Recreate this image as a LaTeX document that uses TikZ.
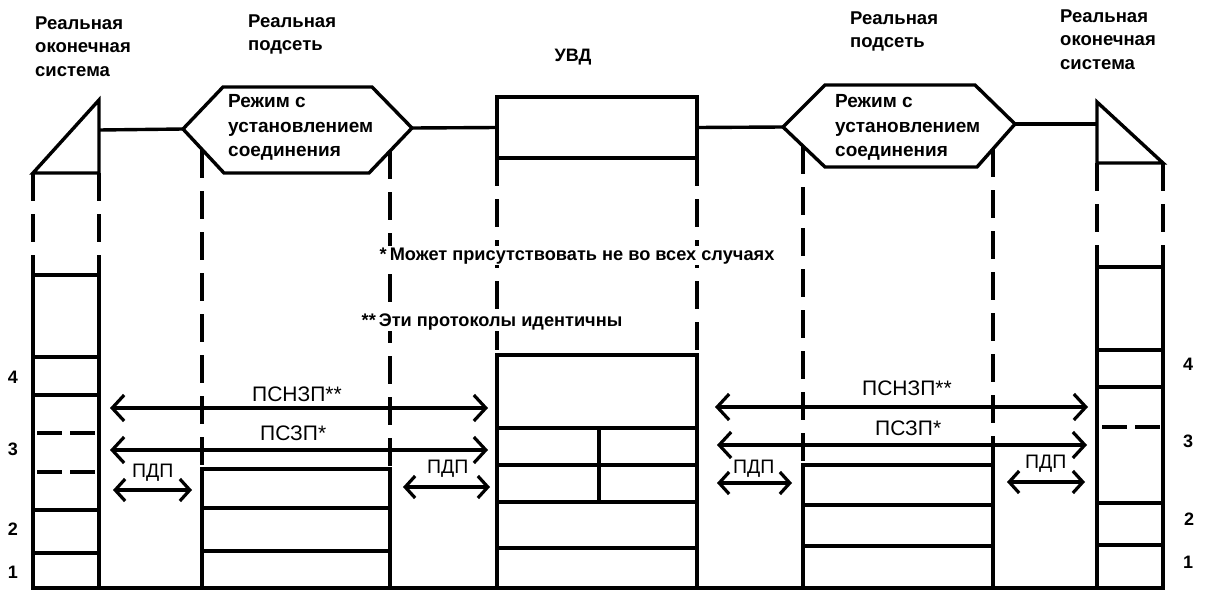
\documentclass[tikz,border=0pt]{standalone}
\usepackage{fontspec}
\setmainfont{Liberation Sans}
\usetikzlibrary{arrows.meta}
\begin{document}
\begin{tikzpicture}[x=1pt,y=-1pt,
  thk/.style={line width=3.4pt, line join=miter},
  dsh/.style={line width=3.4pt, dash pattern=on 28pt off 13pt},
  idsh/.style={line width=3.4pt, dash pattern=on 25pt off 8pt},
  box/.style={draw, line width=3.4pt, inner sep=0pt, outer sep=0pt, anchor=north west},
  arr/.style={line width=3.2pt, {Straight Barb[length=12pt,width=26pt]}-{Straight Barb[length=12pt,width=26pt]}},
  sarr/.style={line width=3.2pt, {Straight Barb[length=10pt,width=22pt]}-{Straight Barb[length=10pt,width=22pt]}},
  hdr/.style={font=\bfseries\fontsize{18.5}{23.5}\selectfont, align=left, inner sep=0pt, anchor=north west},
  hex/.style={font=\bfseries\fontsize{19}{24.5}\selectfont, align=left, inner sep=0pt, anchor=north west},
  lbl/.style={font=\fontsize{21}{22}\selectfont, inner sep=0pt, anchor=base west},
  slbl/.style={font=\fontsize{19.5}{20}\selectfont, inner sep=0pt, anchor=base west},
  num/.style={font=\bfseries\fontsize{18}{20}\selectfont, inner sep=0pt, anchor=base},
  note/.style={font=\bfseries\fontsize{18.2}{20}\selectfont, inner sep=1.5pt, fill=white, anchor=base west}
]
\useasboundingbox (0,0) rectangle (1208,592);

% ---- headers
\node[hdr] (hEsL) at (35,16.5) {Реальная\\оконечная\\система};
\node[hdr] (hSubL) at (248,14.5) {Реальная\\подсеть};
\node[font=\bfseries\fontsize{18}{24}\selectfont, inner sep=0pt, anchor=base] (hUvd) at (573,61) {УВД};
\node[hdr] (hSubR) at (850,11.5) {Реальная\\подсеть};
\node[hdr] (hEsR) at (1060,9.5) {Реальная\\оконечная\\система};

% ---- left end system (top triangle)
\coordinate (tLe) at (99,130);
\draw[thk] (99,100) -- (33,173) -- (99,173) -- cycle;

% ---- left subnet hexagon
\coordinate (hLw) at (183,129);
\coordinate (hLe) at (412,128);
\draw[thk] (hLw) -- (223,87) -- (372,87) -- (hLe) -- (369,173) -- (224,173) -- cycle;
\node[hex] (txtL) at (228,94.5) {Режим с\\установлением\\соединения};

% ---- UVD box
\node[box, minimum width=200pt, minimum height=61pt] (uvd) at (497,97) {};

% ---- right subnet hexagon
\coordinate (hRw) at (783,127);
\coordinate (hRe) at (1015,124);
\draw[thk] (hRw) -- (825,85) -- (975,85) -- (hRe) -- (977,167) -- (825,167) -- cycle;
\node[hex] (txtR) at (835,94.5) {Режим с\\установлением\\соединения};

% ---- right end system (top triangle)
\coordinate (tRw) at (1097,124);
\draw[thk] (1097,102) -- (1163,163) -- (1097,163) -- cycle;

% ---- connectors between elements
\draw[thk] (tLe) -- (hLw);
\draw[thk] (hLe) -- (uvd.west);
\draw[thk] (uvd.east) -- (hRw);
\draw[thk] (hRe) -- (tRw);

% ---- stacks
\node[box, minimum width=66pt, minimum height=313pt] (esL) at (33,275) {};
\node[box, minimum width=188pt, minimum height=119pt] (subL) at (202,469) {};
\node[box, minimum width=200pt, minimum height=233pt] (uvdS) at (497,355) {};
\node[box, minimum width=190pt, minimum height=123pt] (subR) at (803,465) {};
\node[box, minimum width=66pt, minimum height=321pt] (esR) at (1097,267) {};

% baseline
\draw[thk] (esL.south west) -- (esR.south east);

% dashed projections
\draw[dsh] (33,173) -- (esL.north west);
\draw[dsh] (99,173) -- (esL.north east);
\draw[dsh] (202,150) -- (subL.north west);
\draw[dsh] (390,151) -- (subL.north east);
\draw[dsh] (uvd.south west) -- (uvdS.north west);
\draw[dsh] (uvd.south east) -- (uvdS.north east);
\draw[dsh] (803,146) -- (subR.north west);
\draw[dsh] (993,149) -- (subR.north east);
\draw[dsh] (1097,163) -- (esR.north west);
\draw[dsh] (1163,163) -- (esR.north east);

% layer lines: left end system
\draw[thk] (33,357) -- (99,357);
\draw[thk] (33,395) -- (99,395);
\draw[idsh] (37,433) -- (97,433);
\draw[idsh] (37,472) -- (97,472);
\draw[thk] (33,510) -- (99,510);
\draw[thk] (33,553) -- (99,553);
% left subnet
\draw[thk] (202,508) -- (390,508);
\draw[thk] (202,551) -- (390,551);
% UVD
\draw[thk] (497,428) -- (697,428);
\draw[thk] (497,465) -- (697,465);
\draw[thk] (497,502) -- (697,502);
\draw[thk] (497,548) -- (697,548);
\draw[thk] (599,428) -- (599,502);
% right subnet
\draw[thk] (803,505) -- (993,505);
\draw[thk] (803,546) -- (993,546);
% right end system
\draw[thk] (1097,350) -- (1163,350);
\draw[thk] (1097,387) -- (1163,387);
\draw[idsh] (1102,427) -- (1160,427);
\draw[thk] (1097,503) -- (1163,503);
\draw[thk] (1097,545) -- (1163,545);

% layer numbers
\node[num] (nL4) at (13,383) {4};
\node[num] (nL3) at (13,455) {3};
\node[num] (nL2) at (13,535) {2};
\node[num] (nL1) at (13,578) {1};
\node[num] (nR4) at (1188,370) {4};
\node[num] (nR3) at (1188,447) {3};
\node[num] (nR2) at (1189,525) {2};
\node[num] (nR1) at (1188,568) {1};

% notes
\node[note] (note1) at (378,260) {*\,Может присутствовать не во всех случаях};
\node[note] (note2) at (360,326) {**\,Эти протоколы идентичны};

% arrows left
\coordinate (aL1s) at (110,408); \coordinate (aL1e) at (488,408);
\coordinate (aL2s) at (110,450); \coordinate (aL2e) at (488,450);
\coordinate (aL3s) at (113,490); \coordinate (aL3e) at (192,490);
\coordinate (aL4s) at (403,487); \coordinate (aL4e) at (490,487);
\draw[arr] (aL1s) -- (aL1e);
\draw[arr] (aL2s) -- (aL2e);
\draw[sarr] (aL3s) -- (aL3e);
\draw[sarr] (aL4s) -- (aL4e);
\node[lbl] (lL1) at (252,401) {ПСНЗП**};
\node[lbl] (lL2) at (260,440) {ПСЗП*};
\node[slbl] (lL3) at (132,477) {ПДП};
\node[slbl] (lL4) at (427,473) {ПДП};

% arrows right
\coordinate (aR1s) at (715,407); \coordinate (aR1e) at (1088,407);
\coordinate (aR2s) at (717,445); \coordinate (aR2e) at (1087,445);
\coordinate (aR3s) at (717,483); \coordinate (aR3e) at (792,483);
\coordinate (aR4s) at (1007,482); \coordinate (aR4e) at (1085,482);
\draw[arr] (aR1s) -- (aR1e);
\draw[arr] (aR2s) -- (aR2e);
\draw[sarr] (aR3s) -- (aR3e);
\draw[sarr] (aR4s) -- (aR4e);
\node[lbl] (lR1) at (862,395) {ПСНЗП**};
\node[lbl] (lR2) at (875,435) {ПСЗП*};
\node[slbl] (lR3) at (733,473) {ПДП};
\node[slbl] (lR4) at (1025,468) {ПДП};
\end{tikzpicture}
\end{document}
